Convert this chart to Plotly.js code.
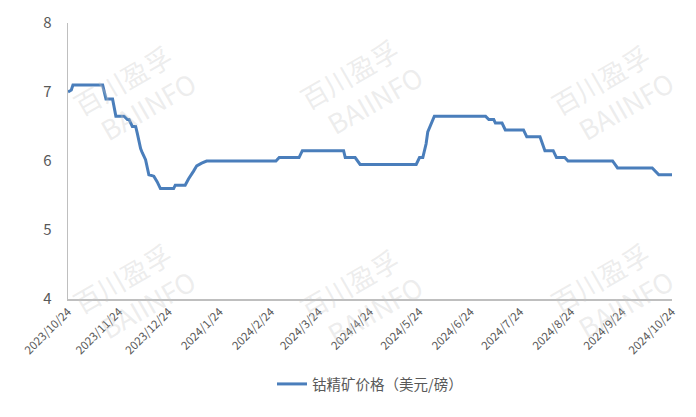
<!DOCTYPE html>
<html>
<head>
<meta charset="utf-8">
<script src="https://cdn.plot.ly/plotly-3.0.1.min.js"></script>
<style>html,body{margin:0;padding:0;background:#fff}#chart{width:696px;height:417px}</style>
</head>
<body>
<div id="chart"></div>
<script>
const dates = [
  "2023-10-24","2023-10-26","2023-10-27","2023-11-14","2023-11-16","2023-11-20","2023-11-22",
  "2023-11-27","2023-11-29","2023-11-30","2023-12-02","2023-12-04","2023-12-05","2023-12-06",
  "2023-12-07","2023-12-08","2023-12-10","2023-12-12","2023-12-15","2023-12-17","2023-12-19",
  "2023-12-27","2023-12-28","2024-01-03","2024-01-05","2024-01-08","2024-01-10","2024-01-13",
  "2024-01-16","2024-02-27","2024-02-29","2024-03-12","2024-03-14","2024-04-08","2024-04-09",
  "2024-04-15","2024-04-18","2024-05-22","2024-05-24","2024-05-26","2024-05-28","2024-05-29",
  "2024-05-31","2024-06-02","2024-07-03","2024-07-05","2024-07-08","2024-07-09","2024-07-13",
  "2024-07-15","2024-07-26","2024-07-28","2024-08-05","2024-08-08","2024-08-13","2024-08-15",
  "2024-08-20","2024-08-22","2024-09-18","2024-09-21","2024-10-12","2024-10-14","2024-10-16",
  "2024-10-24"
];
const prices = [
  7.0, 7.03, 7.1, 7.1, 6.9, 6.9, 6.65,
  6.65, 6.6, 6.6, 6.5, 6.5, 6.4, 6.28,
  6.18, 6.12, 6.02, 5.8, 5.78, 5.7, 5.6,
  5.6, 5.65, 5.65, 5.74, 5.85, 5.93, 5.97,
  6.0, 6.0, 6.05, 6.05, 6.15, 6.15, 6.05,
  6.05, 5.95, 5.95, 6.05, 6.05, 6.25, 6.42,
  6.55, 6.65, 6.65, 6.6, 6.6, 6.55, 6.55,
  6.45, 6.45, 6.35, 6.35, 6.15, 6.15, 6.05,
  6.05, 6.0, 6.0, 5.9, 5.9, 5.85, 5.8,
  5.8
];
const tickDates = ["2023-10-24","2023-11-24","2023-12-24","2024-01-24","2024-02-24","2024-03-24",
  "2024-04-24","2024-05-24","2024-06-24","2024-07-24","2024-08-24","2024-09-24","2024-10-24"];
const tickLabels = ["2023/10/24","2023/11/24","2023/12/24","2024/1/24","2024/2/24","2024/3/24",
  "2024/4/24","2024/5/24","2024/6/24","2024/7/24","2024/8/24","2024/9/24","2024/10/24"];
const seriesName = "钴精矿价格（美元/磅）";
const yTicks = [4,5,6,7,8];

const wmPos = [[0.105,0.74],[0.48,0.76],[0.895,0.74],[0.105,0.02],[0.48,0.0],[0.895,0.02]];
const annotations = wmPos.map(p => ({
  xref:"paper", yref:"paper", x:p[0], y:p[1], xanchor:"center", yanchor:"middle",
  showarrow:false, textangle:-30,
  text:"百川盈孚<br>   BAIINFO", align:"center",
  font:{family:"Noto Sans CJK SC", size:27, color:"rgba(200,200,200,0.32)"}
}));

Plotly.newPlot("chart", [{
  x: dates, y: prices, type:"scatter", mode:"lines", name: seriesName,
  line:{color:"#4a7ebb", width:3}
}], {
  width:696, height:417,
  margin:{l:68, r:24, t:22.5, b:117.5},
  paper_bgcolor:"#fff", plot_bgcolor:"#fff",
  font:{family:"Noto Sans CJK SC, Liberation Sans, sans-serif", color:"#595959"},
  xaxis:{type:"date", range:["2023-10-24","2024-10-24"], tickvals:tickDates, ticktext:tickLabels,
    tickangle:-45, tickfont:{size:11.5, color:"#595959"}, showgrid:false, zeroline:false,
    showline:true, linecolor:"#bfbfbf", linewidth:1.5, ticks:""},
  yaxis:{range:[4,8], tickvals:yTicks, showgrid:false, zeroline:false, showline:true,
    linecolor:"#bfbfbf", linewidth:1.5, ticks:"", tickfont:{size:15, color:"#595959"},
    ticklabelstandoff:12},
  showlegend:true,
  legend:{orientation:"h", x:0.5, xanchor:"center", y:-0.25, yanchor:"top",
    font:{size:14.5, color:"#595959"}},
  annotations: annotations
}, {displayModeBar:false, staticPlot:true});
</script>
</body>
</html>
